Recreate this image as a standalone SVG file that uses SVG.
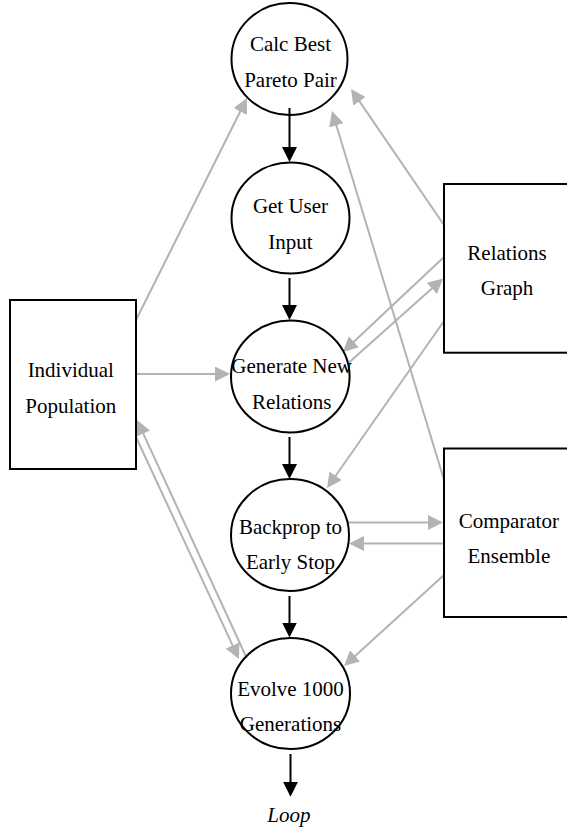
<svg xmlns="http://www.w3.org/2000/svg" width="567" height="829" viewBox="0 0 567 829">
<defs>
<marker id="ag" markerUnits="userSpaceOnUse" markerWidth="15" markerHeight="15" refX="3" refY="7.5" orient="auto"><path d="M0,0 L15,7.5 L0,15 z" fill="#b3b3b3"/></marker>
<marker id="ab" markerUnits="userSpaceOnUse" markerWidth="15" markerHeight="15" refX="3" refY="7.5" orient="auto"><path d="M0,0 L15,7.5 L0,15 z" fill="#000"/></marker>
</defs>
<style>
.n{fill:#fff;stroke:#000;stroke-width:2}
.t{font-family:"Liberation Serif","Times New Roman",serif;font-size:21px;fill:#000;text-anchor:middle}
.g{stroke:#b3b3b3;stroke-width:2;fill:none;marker-end:url(#ag)}
.b{stroke:#000;stroke-width:2;fill:none;marker-end:url(#ab)}
</style>
<rect width="567" height="829" fill="#fff"/>
<g id="connectors">
<line class="g" x1="136" y1="320" x2="241.6" y2="108.7"/>
<line class="g" x1="136" y1="374" x2="218" y2="374"/>
<line class="g" x1="246.7" y1="658" x2="142" y2="430.9"/>
<line class="g" x1="136" y1="437" x2="233.9" y2="648.1"/>
<line class="g" x1="444" y1="225" x2="357.8" y2="98.9"/>
<line class="g" x1="444" y1="480" x2="335.5" y2="122.5"/>
<line class="g" x1="444" y1="257" x2="351.7" y2="343.8"/>
<line class="g" x1="349" y1="362.5" x2="434.1" y2="286.5"/>
<line class="g" x1="444" y1="321" x2="333.9" y2="478.2"/>
<line class="g" x1="348" y1="522.5" x2="431" y2="522.5"/>
<line class="g" x1="444" y1="543.5" x2="361" y2="543.5"/>
<line class="g" x1="444" y1="575" x2="352.9" y2="657.9"/>
<line class="b" x1="289.5" y1="108" x2="289.5" y2="150"/>
<line class="b" x1="289.5" y1="278" x2="289.5" y2="308"/>
<line class="b" x1="289.5" y1="437" x2="289.5" y2="467"/>
<line class="b" x1="289.5" y1="596" x2="289.5" y2="625.5"/>
<line class="b" x1="290.5" y1="754" x2="290.5" y2="784.7"/>
</g>
<g id="calc">
<ellipse class="n" cx="289.5" cy="59" rx="58" ry="56" fill="none" style="fill:none"/>
<text class="t" x="290.5" y="51">Calc Best</text>
<text class="t" x="290.5" y="87">Pareto Pair</text>
</g>
<g id="getuser">
<ellipse class="n" cx="290.5" cy="218" rx="59" ry="55.5" style="fill:none"/>
<text class="t" x="290.5" y="213.3">Get User</text>
<text class="t" x="290.5" y="249.3">Input</text>
</g>
<g id="generate">
<ellipse class="n" cx="290.3" cy="376.5" rx="59.3" ry="56" style="fill:none"/>
<text class="t" x="291.7" y="373.3">Generate New</text>
<text class="t" x="291.7" y="409.3">Relations</text>
</g>
<g id="backprop">
<ellipse class="n" cx="290" cy="535" rx="59" ry="56" style="fill:none"/>
<text class="t" x="290.5" y="534">Backprop to</text>
<text class="t" x="290.5" y="569.3">Early Stop</text>
</g>
<g id="evolve">
<ellipse class="n" cx="290.5" cy="693.5" rx="59.5" ry="55.5" style="fill:none"/>
<text class="t" x="290.5" y="696">Evolve 1000</text>
<text class="t" x="290.5" y="731">Generations</text>
</g>
<g id="population">
<rect class="n" x="10" y="300" width="126" height="169" style="fill:none"/>
<text class="t" x="70.8" y="377">Individual</text>
<text class="t" x="70.8" y="412.7">Population</text>
</g>
<g id="relations">
<rect class="n" x="444" y="184" width="130" height="168.7" style="fill:none"/>
<text class="t" x="507" y="260">Relations</text>
<text class="t" x="507" y="295">Graph</text>
</g>
<g id="comparator">
<rect class="n" x="444" y="448.5" width="130" height="168.5" style="fill:none"/>
<text class="t" x="508.8" y="527.7">Comparator</text>
<text class="t" x="508.8" y="562.7">Ensemble</text>
</g>
<g id="loop">
<text class="t" x="288.8" y="821.7" font-style="italic">Loop</text>
</g>
</svg>
